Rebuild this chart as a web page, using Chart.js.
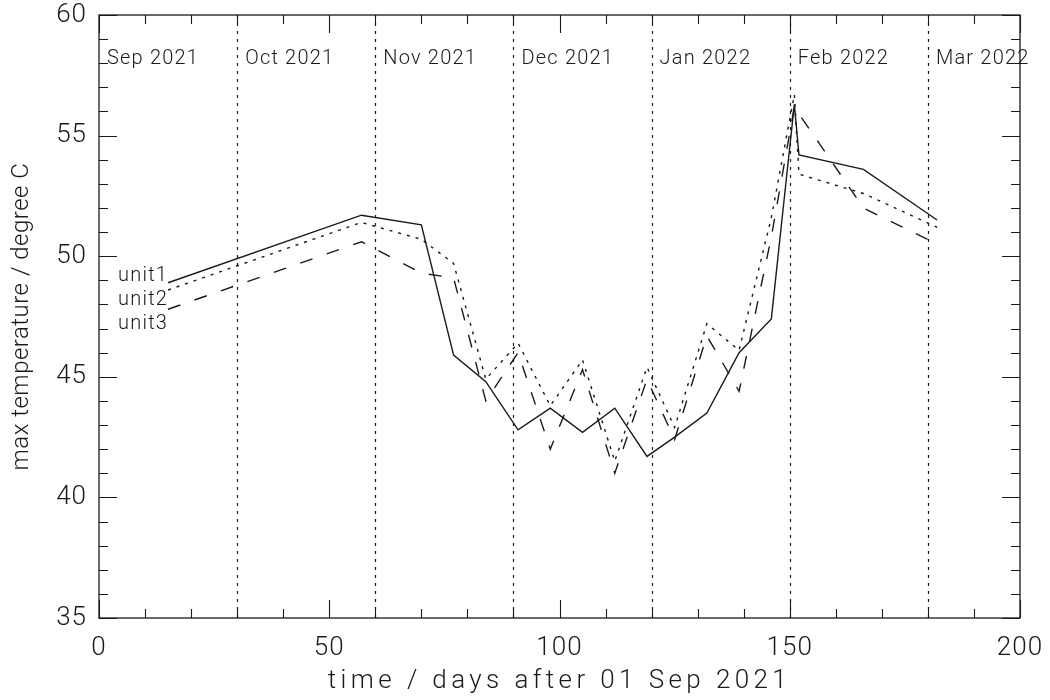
<!DOCTYPE html>
<html>
<head>
<meta charset="utf-8">
<script src="https://cdn.jsdelivr.net/npm/chart.js@4"></script>
<style>
  html, body { margin: 0; padding: 0; background: #fff; }
  #wrap { width: 1050px; height: 700px; }
</style>
</head>
<body>
<div id="wrap"><canvas id="tempChart" width="1050" height="700"></canvas></div>
<script>
// sample days (days after 01 Sep 2021)
const days = [15, 57, 70, 77, 84, 91, 98, 105, 112, 119, 125, 132, 139, 146, 151, 152, 166, 182];
// max temperature per unit, degree C
const unit1 = [48.9, 51.7, 51.3, 45.9, 44.8, 42.8, 43.7, 42.7, 43.7, 41.7, 42.5, 43.5, 46.0, 47.4, 56.3, 54.2, 53.6, 51.5];
const unit2 = [48.6, 51.4, 50.7, 49.7, 44.9, 46.4, 43.8, 45.7, 41.5, 45.4, 42.9, 47.2, 46.1, 51.6, 56.7, 53.4, 52.6, 51.2];
const unit3 = [47.8, 50.6, 49.3, 49.1, 44.0, 46.0, 42.0, 45.3, 41.0, 44.9, 42.4, 46.7, 44.4, 50.8, 56.2, 55.9, 52.0, 50.5];
const unitNames = ['unit1', 'unit2', 'unit3'];

// month markers
const monthDays = [0, 30, 60, 90, 120, 150, 180];
const monthLabels = ['Sep 2021', 'Oct 2021', 'Nov 2021', 'Dec 2021', 'Jan 2022', 'Feb 2022', 'Mar 2022'];

const xTicks = [0, 50, 100, 150, 200];
const yTicks = [35, 40, 45, 50, 55, 60];

const xTitle = 'time / days after 01 Sep 2021';
const yTitle = 'max temperature / degree C';

const ink = '#1a1a1a';
const fontFamily = 'Roboto, "DejaVu Sans", sans-serif';

function points(vals) {
    return days.map((d, i) => ({ x: d, y: vals[i] }));
}

// box, inward ticks, month lines and text labels
const framePlugin = {
    id: 'frame',
    beforeDraw(chart) {
        chart.ctx.letterSpacing = '1px';
    },
    beforeDatasetsDraw(chart) {
        const { ctx, chartArea: a, scales: { x } } = chart;
        ctx.save();
        ctx.strokeStyle = ink;
        ctx.lineWidth = 1.2;
        ctx.setLineDash([3, 5]);
        monthDays.forEach(d => {
            if (d <= 0) return;
            const px = Math.round(x.getPixelForValue(d)) + 0.5;
            ctx.beginPath();
            ctx.moveTo(px, a.bottom);
            ctx.lineTo(px, a.top);
            ctx.stroke();
        });
        ctx.restore();
    },
    afterDraw(chart) {
        const { ctx, chartArea: a, scales: { x, y } } = chart;
        ctx.save();
        ctx.strokeStyle = ink;
        ctx.lineWidth = 1.3;
        ctx.strokeRect(a.left, a.top, a.right - a.left, a.bottom - a.top);

        ctx.lineWidth = 1.1;
        ctx.beginPath();
        for (let v = 0; v <= 200; v += 10) {
            const px = Math.round(x.getPixelForValue(v)) + 0.5;
            const len = v % 50 === 0 ? 18 : 9;
            ctx.moveTo(px, a.bottom); ctx.lineTo(px, a.bottom - len);
            ctx.moveTo(px, a.top); ctx.lineTo(px, a.top + len);
        }
        for (let v = 35; v <= 60; v += 1) {
            const py = Math.round(y.getPixelForValue(v)) + 0.5;
            const len = v % 5 === 0 ? 18 : 9;
            ctx.moveTo(a.left, py); ctx.lineTo(a.left + len, py);
            ctx.moveTo(a.right, py); ctx.lineTo(a.right - len, py);
        }
        ctx.stroke();

        ctx.fillStyle = ink;
        ctx.font = '300 20px ' + fontFamily;
        ctx.letterSpacing = '1.2px';
        ctx.textBaseline = 'middle';
        ctx.textAlign = 'left';
        monthDays.forEach((d, i) => {
            ctx.fillText(monthLabels[i], x.getPixelForValue(d) + 8, a.top + 44);
        });

        ctx.textAlign = 'right';
        const lx = x.getPixelForValue(days[0]);
        const ly = y.getPixelForValue(unit1[0]) - 7;
        unitNames.forEach((n, i) => {
            ctx.fillText(n, lx, ly + i * 24);
        });

        // axis titles
        ctx.textAlign = 'center';
        ctx.font = '300 26px ' + fontFamily;
        ctx.letterSpacing = '4.4px';
        ctx.fillText(xTitle, (a.left + a.right) / 2, 681);

        ctx.font = '300 24px ' + fontFamily;
        ctx.letterSpacing = '0.5px';
        ctx.translate(22, (a.top + a.bottom) / 2);
        ctx.rotate(-Math.PI / 2);
        ctx.fillText(yTitle, 0, 0);
        ctx.restore();
    }
};

new Chart(document.getElementById('tempChart'), {
    type: 'line',
    data: {
        datasets: [
            { label: 'unit1', data: points(unit1), borderColor: ink, borderWidth: 1.4 },
            { label: 'unit2', data: points(unit2), borderColor: ink, borderWidth: 1.4, borderDash: [3, 6] },
            { label: 'unit3', data: points(unit3), borderColor: ink, borderWidth: 1.4, borderDash: [13, 15] }
        ]
    },
    options: {
        responsive: false,
        animation: false,
        layout: { padding: { top: 15, right: 30, left: 0, bottom: 0 } },
        elements: { point: { radius: 0 }, line: { tension: 0, fill: false } },
        plugins: {
            legend: { display: false },
            tooltip: { enabled: false }
        },
        scales: {
            x: {
                type: 'linear',
                min: 0,
                max: 200,
                afterBuildTicks: s => { s.ticks = xTicks.map(v => ({ value: v })); },
                afterFit: s => { s.height = 82; s.paddingLeft = 0; s.paddingRight = 0; },
                grid: { display: false, drawTicks: false },
                border: { display: false },
                ticks: { color: ink, padding: 15, maxRotation: 0, font: { family: fontFamily, size: 26, weight: '300' } }
            },
            y: {
                min: 35,
                max: 60,
                afterBuildTicks: s => { s.ticks = yTicks.map(v => ({ value: v })); },
                afterFit: s => { s.width = 99; s.paddingTop = 0; s.paddingBottom = 0; },
                grid: { display: false, drawTicks: false },
                border: { display: false },
                ticks: { color: ink, padding: 12, font: { family: fontFamily, size: 26, weight: '300' } }
            }
        }
    },
    plugins: [framePlugin]
});
</script>
</body>
</html>
